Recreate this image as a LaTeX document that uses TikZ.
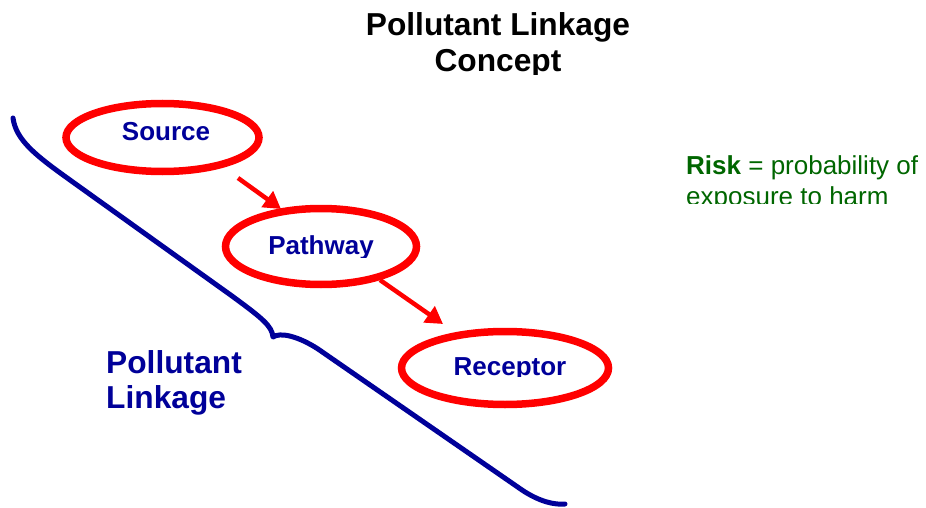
\documentclass[tikz,border=0pt]{standalone}
\usepackage{fontspec}
\setmainfont{Liberation Sans}
\usetikzlibrary{shapes.geometric,arrows.meta}
\definecolor{dblue}{RGB}{0,0,153}
\definecolor{rred}{RGB}{255,0,0}
\definecolor{rgreen}{RGB}{0,102,0}
\tikzset{
  oval/.style={ellipse,draw=rred,line width=7.5pt,inner sep=0pt,fill=none},
  lbl/.style={font=\fontsize{26}{30}\selectfont\bfseries,text=dblue,inner sep=0pt,anchor=base},
  arr/.style={draw=rred,line width=4.5pt,-{Triangle[length=17pt,width=19pt]}},
  brace/.style={draw=dblue,line width=5pt,line cap=round,line join=round},
  ttl/.style={font=\fontsize{31.7}{34}\selectfont\bfseries,text=black,inner sep=0pt,anchor=base},
  big/.style={font=\fontsize{31.7}{36}\selectfont\bfseries,text=dblue,inner sep=0pt,anchor=base west},
  risk/.style={font=\fontsize{26}{30}\selectfont,text=rgreen,inner sep=0pt,anchor=base west},
}
\begin{document}
\begin{tikzpicture}[x=1pt,y=-1pt]
\useasboundingbox (0,0) rectangle (926,508);
% title
\node[ttl] (t1) at (498,36) {Pollutant Linkage};
\begin{scope}
\clip (0,40) rectangle (926,75);
\node[ttl] (t2) at (498,72) {Concept};
\end{scope}
% ovals
\node[oval,minimum width=193pt,minimum height=68pt] (src) at (162.5,137.5) {};
\node[oval,minimum width=191pt,minimum height=76pt] (pw) at (321,246.5) {};
\node[oval,minimum width=207pt,minimum height=73pt] (rc) at (505,368) {};
% labels
\node[lbl] (srcl) at (166,141) {Source};
\begin{scope}
\clip (200,200) rectangle (440,257);
\node[lbl] (pwl) at (321,254.5) {Pathway};
\end{scope}
\begin{scope}
\clip (380,320) rectangle (640,376);
\node[lbl] (rcl) at (510,375.5) {Receptor};
\end{scope}
% arrows
\coordinate (a1s) at (238,178);
\coordinate (a1e) at (281,209);
\coordinate (a2s) at (380,280);
\coordinate (a2e) at (443,324);
\draw[arr] (a1s) -- (a1e);
\draw[arr] (a2s) -- (a2e);
% brace
\coordinate (b0) at (13,118);
\coordinate (bc) at (273,337);
\coordinate (b1) at (565,504);
\draw[brace] (b0) .. controls (16,140) and (35,155) .. (70,180)
  -- (232,296) .. controls (262,318) and (272,326) .. (bc)
  .. controls (280,332) and (298,336) .. (318,349)
  -- (522,490) .. controls (540,502) and (555,505) .. (b1);
% pollutant linkage label
\node[big] (pl1) at (106,373) {Pollutant};
\node[big] (pl2) at (106,408) {Linkage};
% risk
\node[risk] (r1) at (686,175) {\textbf{Risk} = probability of};
\begin{scope}
\clip (660,180) rectangle (926,203);
\node[risk] (r2) at (686,205) {exposure to harm};
\end{scope}
\end{tikzpicture}
\end{document}
